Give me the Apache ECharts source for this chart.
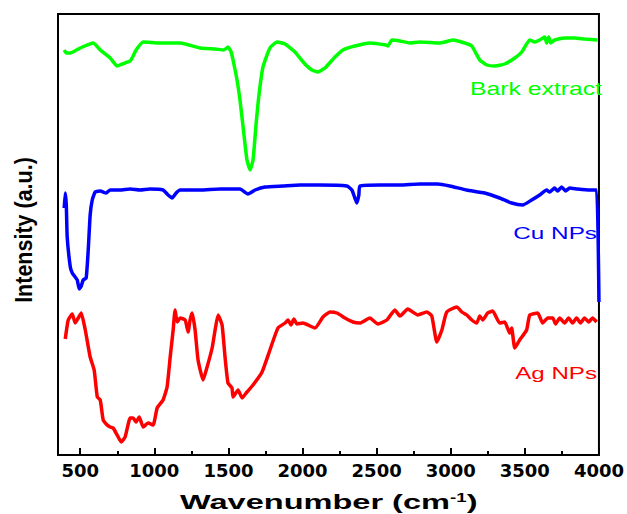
<!DOCTYPE html>
<html>
<head>
<meta charset="utf-8">
<script src="https://cdn.jsdelivr.net/npm/echarts@6/dist/echarts.min.js"></script>
<style>
  html, body { margin: 0; padding: 0; background: #fff; }
  #chart { width: 627px; height: 514px; }
</style>
</head>
<body>
<div id="chart"></div>
<script>
// FTIR spectra, stacked with offsets: [wavenumber (cm-1), intensity (a.u.)]
const barkExtract = [
  [392, 405], [406, 402], [433, 402], [500, 407], [588, 412], [635, 405], [702, 397],
  [749, 389], [783, 391], [837, 394], [850, 397], [877, 405], [925, 413], [1039, 412],
  [1174, 412], [1309, 407], [1410, 406], [1470, 405], [1497, 408], [1518, 403],
  [1531, 395], [1558, 375], [1578, 355], [1605, 320], [1625, 295], [1646, 285],
  [1666, 295], [1686, 330], [1706, 360], [1733, 388], [1780, 407], [1828, 413],
  [1882, 411], [1949, 403], [2016, 391], [2063, 385], [2104, 383], [2151, 387],
  [2219, 398], [2272, 405], [2353, 409], [2454, 412], [2562, 410], [2576, 409],
  [2603, 415], [2657, 414], [2724, 412], [2791, 413], [2926, 412], [2960, 413],
  [3014, 415], [3095, 412], [3142, 409], [3169, 402], [3196, 395], [3243, 390],
  [3297, 389], [3364, 391], [3432, 397], [3479, 403], [3533, 415], [3566, 413],
  [3600, 415], [3634, 418], [3647, 412], [3661, 418], [3674, 412], [3701, 415],
  [3768, 417], [3836, 417], [3903, 416], [3991, 415]
];

const cuNPs = [
  [392, 247], [399, 262], [406, 250], [412, 218], [433, 188], [446, 182], [466, 178],
  [480, 175], [493, 166], [507, 169], [520, 175], [540, 177], [554, 205], [567, 240],
  [581, 255], [601, 263], [635, 264], [675, 262], [702, 265], [769, 265], [837, 266],
  [904, 265], [971, 266], [1059, 265], [1093, 260], [1120, 257], [1147, 262],
  [1174, 265], [1309, 265], [1444, 266], [1578, 266], [1632, 261], [1680, 265],
  [1747, 268], [1868, 269], [1983, 270], [2117, 270], [2299, 269], [2333, 265],
  [2353, 257], [2367, 252], [2380, 260], [2387, 269], [2522, 270], [2657, 270],
  [2791, 271], [2913, 271], [2993, 269], [3108, 265], [3229, 262], [3330, 257],
  [3411, 252], [3485, 250], [3546, 255], [3600, 260], [3647, 265], [3667, 263],
  [3701, 267], [3721, 264], [3748, 268], [3775, 264], [3802, 267], [3856, 266],
  [3937, 265], [3984, 265], [4000, 153]
];

const agNPs = [
  [399, 116], [419, 135], [446, 141], [466, 132], [487, 137], [507, 142], [534, 125],
  [567, 98], [594, 85], [615, 58], [635, 55], [655, 35], [682, 30], [702, 28],
  [722, 27], [749, 20], [776, 13], [803, 18], [837, 37], [857, 37], [877, 33],
  [898, 38], [925, 28], [958, 32], [992, 30], [1019, 47], [1059, 55], [1086, 68],
  [1107, 98], [1127, 125], [1140, 145], [1154, 133], [1174, 137], [1208, 135],
  [1228, 123], [1241, 135], [1255, 142], [1275, 125], [1295, 95], [1329, 75],
  [1356, 88], [1390, 107], [1410, 125], [1430, 140], [1457, 130], [1477, 98],
  [1497, 72], [1524, 67], [1531, 58], [1565, 65], [1592, 57], [1625, 63],
  [1666, 70], [1727, 83], [1780, 105], [1834, 127], [1882, 132], [1902, 135],
  [1922, 130], [1942, 136], [1962, 131], [2003, 132], [2084, 127], [2138, 138],
  [2185, 143], [2232, 142], [2286, 137], [2340, 133], [2387, 132], [2454, 137],
  [2508, 131], [2569, 135], [2623, 145], [2657, 139], [2710, 146], [2778, 140],
  [2838, 143], [2872, 139], [2906, 113], [2940, 125], [2973, 143], [3041, 148],
  [3075, 143], [3108, 140], [3142, 135], [3175, 132], [3196, 139], [3216, 135],
  [3249, 142], [3283, 144], [3330, 132], [3364, 133], [3398, 122], [3411, 127],
  [3432, 107], [3465, 115], [3512, 125], [3533, 140], [3587, 142], [3620, 132],
  [3654, 137], [3688, 137], [3708, 131], [3735, 137], [3768, 132], [3795, 137],
  [3822, 132], [3849, 137], [3876, 132], [3903, 137], [3930, 133], [3957, 137],
  [3984, 133]
];

// Axis ticks (cm-1)
const majorTicks = [500, 1000, 1500, 2000, 2500, 3000, 3500, 4000];
const minorTicks = [750, 1250, 1750, 2250, 2750, 3250, 3750];
const xRange = [350, 4000];
const yRange = [0, 441];

const seriesLabels = ['Bark extract', 'Cu NPs', 'Ag NPs'];
const xTitle = 'Wavenumber (cm';
const xTitleSup = '-1';
const yTitle = 'Intensity (a.u.)';

const chart = echarts.init(document.getElementById('chart'), null, { renderer: 'svg' });

function spectrum(name, data, color) {
  return {
    name: name,
    type: 'line',
    data: data,
    xAxisIndex: 0,
    showSymbol: false,
    smooth: 0.15,
    clip: true,
    lineStyle: { color: color, width: 3.5 },
    itemStyle: { color: color }
  };
}

chart.setOption({
  animation: false,
  backgroundColor: '#ffffff',
  grid: {
    left: 58, right: 28, top: 14, bottom: 59,
    show: true, borderColor: '#000', borderWidth: 2, backgroundColor: 'transparent'
  },
  xAxis: [
    {
      type: 'value', min: xRange[0], max: xRange[1],
      axisLine: { show: true, lineStyle: { color: '#000', width: 2 } },
      axisTick: { show: true, inside: true, length: 7, customValues: majorTicks,
                  lineStyle: { color: '#000', width: 2 } },
      axisLabel: { show: true, customValues: majorTicks, margin: 6, color: '#000',
                   fontFamily: 'DejaVu Sans', fontWeight: 'bold', fontSize: 18,
                   formatter: function (v) { return String(v); } },
      splitLine: { show: false }
    },
    {
      type: 'value', min: xRange[0], max: xRange[1], position: 'bottom',
      axisLine: { show: false },
      axisTick: { show: true, inside: true, length: 4, customValues: minorTicks,
                  lineStyle: { color: '#000', width: 2 } },
      axisLabel: { show: false },
      splitLine: { show: false }
    }
  ],
  yAxis: {
    type: 'value', min: yRange[0], max: yRange[1],
    axisLine: { show: false }, axisTick: { show: false },
    axisLabel: { show: false }, splitLine: { show: false }
  },
  series: [
    spectrum(seriesLabels[0], barkExtract, '#00ff00'),
    spectrum(seriesLabels[1], cuNPs, '#0000ff'),
    spectrum(seriesLabels[2], agNPs, '#ff0000')
  ],
  graphic: [
    {
      type: 'text', x: 602, y: 89, scaleX: 1.375, z: 10,
      style: { text: seriesLabels[0], fill: '#00ff00', font: '18px "Liberation Sans"',
               textAlign: 'right', textVerticalAlign: 'middle', align: 'right', verticalAlign: 'middle' }
    },
    {
      type: 'text', x: 597, y: 233, scaleX: 1.43, z: 10,
      style: { text: seriesLabels[1], fill: '#0000ff', font: '17px "Liberation Sans"',
               textAlign: 'right', textVerticalAlign: 'middle', align: 'right', verticalAlign: 'middle' }
    },
    {
      type: 'text', x: 597, y: 373, scaleX: 1.42, z: 10,
      style: { text: seriesLabels[2], fill: '#ff0000', font: '17px "Liberation Sans"',
               textAlign: 'right', textVerticalAlign: 'middle', align: 'right', verticalAlign: 'middle' }
    },
    {
      type: 'text', x: 180, y: 502, scaleX: 1.55, z: 10,
      style: {
        text: '{a|' + xTitle + '}{s|' + xTitleSup + '}{a|)}',
        textAlign: 'left', textVerticalAlign: 'middle', align: 'left', verticalAlign: 'middle',
        rich: {
          a: { fontSize: 21, fontWeight: 'bold', fontFamily: 'Liberation Sans', fill: '#000', color: '#000' },
          s: { fontSize: 12, fontWeight: 'bold', fontFamily: 'Liberation Sans', fill: '#000', color: '#000',
               verticalAlign: 'top' }
        }
      }
    },
    {
      type: 'text', x: 24, y: 230, rotation: Math.PI / 2, scaleY: 1.1, z: 10,
      style: { text: yTitle, fill: '#000', font: 'bold 21.5px "Liberation Sans"',
               textAlign: 'center', textVerticalAlign: 'middle', align: 'center', verticalAlign: 'middle' }
    }
  ]
});
</script>
</body>
</html>
